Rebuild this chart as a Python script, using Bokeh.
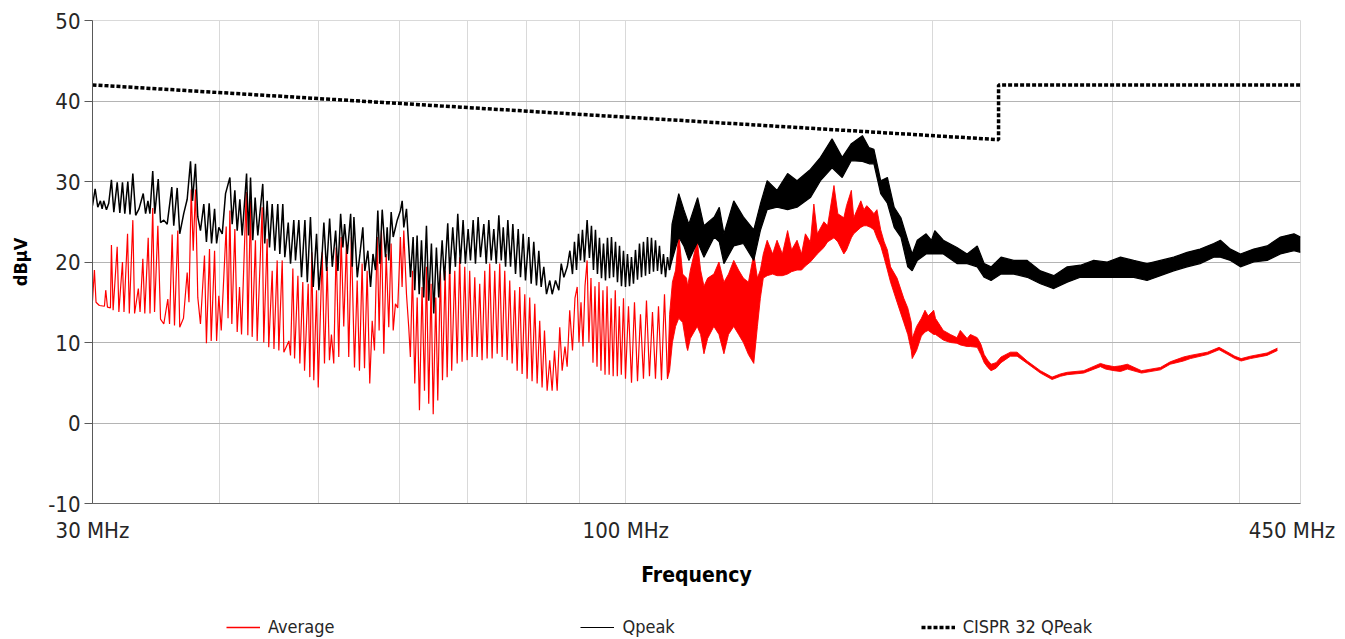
from bokeh.plotting import figure
from bokeh.layouts import column
from bokeh.models import FixedTicker, Legend, LegendItem, Range1d
from bokeh.embed import file_html
from bokeh.resources import INLINE

FONT = "'DejaVu Sans Condensed', 'Roboto Condensed', 'Liberation Sans Narrow', Roboto"

# ---------------- axis / tick data ----------------
x_tick_values = [30, 100, 450]
x_tick_labels = ["30 MHz", "100 MHz", "450 MHz"]
x_grid_values = [40, 50, 60, 70, 80, 90, 100, 200, 300, 400]
y_tick_values = [-10, 0, 10, 20, 30, 40, 50]
y_tick_labels = ["-10", "0", "10", "20", "30", "40", "50"]
series_names = ["Average", "Qpeak", "CISPR 32 QPeak"]

# ---------------- CISPR 32 QPeak limit ----------------
limit_freq = [30.0, 232.0, 232.0, 460.0]
limit_dbuv = [42.0, 35.2, 42.0, 42.0]

# ---------------- Qpeak trace, 30-110 MHz (freq MHz, dBuV) ----------------
qpeak_points = [
    (30.0, 27.0), (30.18, 29.1), (30.36, 26.8), (30.54, 27.6), (30.66, 26.6), (30.77, 27.6),
    (30.96, 26.5), (31.12, 27.3), (31.31, 30.2), (31.48, 26.2), (31.72, 29.9), (31.91, 26.1),
    (32.10, 29.9), (32.27, 26.0), (32.49, 30.0), (32.65, 25.9), (32.86, 31.0), (33.07, 25.8),
    (33.32, 26.6), (33.64, 28.5), (33.82, 26.0), (34.00, 27.6), (34.15, 26.0), (34.37, 31.3),
    (34.53, 26.0), (34.80, 30.3), (34.98, 24.9), (35.24, 25.2), (35.51, 24.7), (35.88, 29.3),
    (36.04, 24.5), (36.32, 29.2), (36.53, 23.5), (36.86, 26.0), (37.15, 27.8), (37.43, 32.5),
    (37.60, 27.6), (37.85, 32.2), (38.05, 25.6), (38.28, 23.9), (38.57, 27.2), (38.80, 22.5),
    (39.04, 27.3), (39.25, 22.3), (39.52, 26.6), (39.70, 22.3), (39.90, 24.3), (40.21, 23.5),
    (40.51, 28.5), (40.91, 30.5), (41.12, 24.7), (41.37, 28.9), (41.59, 23.9), (41.84, 27.8),
    (42.06, 23.3), (42.48, 31.0), (42.67, 23.3), (42.86, 30.5), (43.08, 22.7), (43.31, 28.0),
    (43.57, 23.3), (44.06, 29.7), (44.26, 22.3), (44.50, 27.6), (44.74, 21.8), (45.01, 27.2),
    (45.28, 21.4), (45.58, 27.2), (45.79, 21.0), (46.10, 27.2), (46.31, 20.6), (46.67, 24.9),
    (46.91, 19.8), (47.26, 25.2), (47.44, 20.2), (47.80, 25.2), (48.09, 18.1), (48.46, 25.2),
    (48.72, 17.5), (49.07, 25.6), (49.38, 16.9), (49.75, 23.5), (50.01, 16.5), (50.40, 21.4),
    (50.58, 24.9), (50.89, 18.9), (51.24, 25.4), (51.55, 19.4), (51.94, 23.9), (52.21, 18.9),
    (52.53, 26.0), (52.80, 21.8), (53.00, 24.7), (53.33, 21.0), (53.73, 26.0), (53.93, 19.4),
    (54.13, 25.6), (54.54, 18.1), (54.87, 21.0), (55.23, 24.3), (55.48, 18.9), (55.86, 21.4),
    (56.20, 16.9), (56.51, 21.0), (56.83, 19.0), (57.13, 26.4), (57.39, 19.8), (57.70, 26.5),
    (58.13, 20.6), (58.35, 24.3), (58.56, 20.2), (58.88, 26.2), (59.15, 23.1), (59.69, 25.2),
    (60.13, 26.4), (60.36, 27.6), (60.58, 24.3), (60.95, 26.6), (61.27, 21.8), (61.50, 18.1),
    (61.87, 23.1), (62.10, 16.5), (62.43, 23.3), (62.72, 16.0), (63.05, 22.7), (63.37, 15.6),
    (63.76, 24.5), (64.09, 15.2), (64.48, 22.3), (64.82, 13.6), (65.21, 21.8), (65.55, 15.6),
    (66.06, 22.7), (66.40, 17.7), (66.90, 24.8), (67.21, 18.5), (67.66, 24.3), (68.07, 19.4),
    (68.43, 26.0), (68.84, 19.8), (69.26, 25.2), (69.62, 19.8), (70.05, 24.1), (70.42, 20.2),
    (70.85, 25.2), (71.22, 19.8), (71.65, 25.6), (72.03, 20.6), (72.58, 24.7), (72.97, 19.8),
    (73.40, 25.2), (73.80, 20.2), (74.23, 24.1), (74.64, 19.8), (75.08, 25.8), (75.49, 20.2),
    (75.83, 24.3), (76.23, 19.4), (76.62, 25.2), (77.09, 19.4), (77.49, 24.7), (77.96, 18.5),
    (78.44, 24.1), (78.84, 18.1), (79.32, 23.5), (79.73, 17.7), (80.33, 23.1), (80.77, 17.3),
    (81.24, 22.5), (81.74, 17.1), (82.17, 21.4), (82.61, 16.9), (83.10, 19.4), (83.61, 16.0),
    (84.23, 17.7), (84.69, 16.0), (85.33, 17.7), (85.97, 16.5), (86.44, 19.8), (86.95, 18.1),
    (87.62, 19.4), (88.14, 21.4), (88.66, 18.5), (89.06, 22.5), (89.47, 19.0), (89.87, 23.5),
    (90.28, 20.2), (90.68, 24.0), (91.09, 20.0), (91.64, 25.2), (92.12, 20.5), (92.54, 24.5),
    (92.96, 19.0), (93.38, 24.0), (93.80, 18.5), (94.23, 23.0), (94.66, 18.0), (95.09, 22.3),
    (95.52, 17.7), (95.95, 23.0), (96.39, 18.0), (96.82, 23.1), (97.26, 18.1), (97.70, 22.5),
    (98.14, 17.5), (98.59, 22.0), (99.03, 17.0), (99.48, 21.4), (99.93, 16.9), (100.38, 21.0),
    (100.84, 17.0), (101.29, 20.6), (101.75, 17.3), (102.21, 21.5), (102.68, 17.8), (103.14, 22.3),
    (103.61, 18.1), (104.07, 22.5), (104.55, 18.3), (105.02, 23.1), (105.49, 18.5), (105.97, 23.0),
    (106.45, 18.8), (106.93, 22.7), (107.42, 18.9), (107.90, 22.0), (108.39, 18.5), (108.88, 21.0),
    (109.38, 18.1), (109.87, 20.6), (110.37, 19.0),
]

# ---------------- Qpeak, 110-459 MHz: dense trace, low / high envelope ----------------
qpeak_band_freq = [110.37, 111.0, 112.7, 114.0, 115.3, 117.6, 119.3, 122.1, 123.5, 124.8, 127.6,
                   130.4, 133.5, 135.5, 137.6, 140.7, 144.1, 147.2, 151.7, 155.2, 159.3, 163.0,
                   166.4, 170.6, 173.2, 175.1, 177.8, 180.5, 183.3, 186.1, 189.0, 190.9, 193.1,
                   197.0, 199.4, 200.9, 204.8, 211.2, 216.1, 221.1, 224.6, 228.1, 233.3, 240.1,
                   247.5, 255.0, 262.8, 270.9, 279.1, 287.6, 296.5, 305.5, 314.8, 324.4, 334.3,
                   344.5, 355.1, 365.7, 377.1, 382.8, 391.6, 400.5, 412.7, 425.4, 438.4, 452.0,
                   458.7]
qpeak_band_low = [19.0, 20.2, 23.1, 22.0, 20.2, 22.5, 20.6, 23.1, 22.5, 19.8, 22.0,
                  22.3, 20.2, 23.9, 26.5, 26.8, 26.5, 26.8, 28.0, 30.1, 31.7, 30.5,
                  32.6, 32.5, 32.2, 32.2, 28.5, 27.3, 24.3, 23.1, 19.4, 18.9, 20.2,
                  21.0, 21.0, 21.0, 21.0, 19.8, 19.8, 19.4, 18.1, 17.7, 18.5, 18.5,
                  18.1, 17.3, 16.7, 17.5, 18.1, 18.1, 18.1, 18.1, 18.1, 17.7, 18.3,
                  18.9, 19.4, 19.8, 20.6, 20.6, 20.2, 19.4, 20.0, 20.2, 21.0, 21.4,
                  21.2]
qpeak_band_high = [19.0, 24.7, 28.5, 26.5, 24.7, 28.0, 24.5, 25.6, 26.8, 23.5, 27.6,
                   25.6, 24.0, 27.2, 30.1, 28.9, 31.0, 30.1, 31.5, 33.0, 35.3, 33.0,
                   34.7, 35.7, 34.2, 34.0, 30.1, 30.5, 26.8, 25.5, 22.7, 21.0, 22.7,
                   23.5, 22.7, 23.9, 22.7, 21.8, 21.0, 22.0, 19.8, 19.4, 20.6, 20.2,
                   20.2, 18.9, 18.3, 19.4, 19.6, 20.2, 20.0, 20.6, 20.2, 19.8, 20.2,
                   20.6, 21.2, 21.6, 22.3, 22.7, 21.6, 21.0, 21.6, 22.0, 23.1, 23.5,
                   23.1]

# ---------------- Average trace, 30-110 MHz (freq MHz, dBuV) ----------------
average_points = [
    (30.0, 15.2), (30.13, 19.0), (30.24, 15.0), (30.47, 14.6), (30.82, 14.5), (30.91, 16.5),
    (31.03, 14.4), (31.24, 14.3), (31.31, 22.1), (31.43, 14.0), (31.72, 21.9), (31.84, 13.8),
    (32.10, 20.0), (32.21, 13.8), (32.47, 23.5), (32.60, 13.6), (32.86, 25.2), (32.99, 13.6),
    (33.27, 16.7), (33.40, 13.8), (33.61, 20.4), (33.76, 13.6), (34.02, 23.0), (34.16, 13.6),
    (34.37, 26.7), (34.51, 13.8), (34.77, 24.5), (34.98, 12.9), (35.24, 12.3), (35.56, 15.4),
    (35.70, 12.3), (35.91, 23.4), (36.10, 12.1), (36.37, 23.9), (36.53, 11.9), (36.84, 13.0),
    (37.15, 18.7), (37.30, 15.0), (37.49, 29.0), (37.66, 21.4), (37.85, 29.0), (38.05, 15.6),
    (38.28, 12.3), (38.63, 20.8), (38.80, 9.9), (39.07, 21.6), (39.22, 10.2), (39.52, 21.4),
    (39.70, 10.2), (39.90, 15.8), (40.12, 11.5), (40.57, 24.4), (40.74, 13.0), (40.91, 26.4),
    (41.09, 12.3), (41.37, 24.1), (41.59, 11.3), (41.81, 16.9), (42.00, 11.0), (42.45, 28.7),
    (42.60, 10.9), (42.86, 27.6), (43.02, 10.7), (43.34, 22.7), (43.51, 10.2), (44.00, 26.8),
    (44.16, 10.0), (44.50, 22.9), (44.66, 9.4), (45.01, 18.9), (45.19, 9.2), (45.52, 20.2),
    (45.69, 9.0), (46.04, 20.2), (46.21, 8.8), (46.74, 10.2), (46.91, 8.4), (47.16, 19.2),
    (47.34, 8.0), (47.70, 18.3), (47.91, 7.4), (48.23, 17.5), (48.42, 6.5), (48.82, 17.3),
    (49.00, 5.7), (49.22, 21.2), (49.44, 5.3), (49.75, 16.5), (49.94, 4.4), (50.39, 21.2),
    (50.65, 7.4), (50.96, 19.4), (51.22, 7.8), (51.45, 11.0), (51.72, 7.4), (52.00, 21.8),
    (52.31, 8.2), (52.59, 23.1), (52.90, 12.0), (53.23, 22.5), (53.50, 8.2), (53.82, 23.1),
    (54.20, 6.9), (54.53, 17.7), (54.81, 6.5), (55.14, 19.8), (55.44, 6.8), (55.77, 18.9),
    (56.10, 4.9), (56.41, 12.7), (56.70, 9.0), (57.05, 23.1), (57.30, 11.5), (57.60, 23.9),
    (57.91, 8.6), (58.22, 21.0), (58.56, 11.9), (58.87, 22.3), (59.15, 11.5), (59.45, 14.8),
    (59.76, 14.3), (60.12, 23.1), (60.35, 16.9), (60.58, 23.9), (60.95, 16.0), (61.26, 11.9),
    (61.49, 8.2), (61.78, 18.9), (62.10, 4.9), (62.44, 15.6), (62.76, 1.6), (63.13, 16.9),
    (63.48, 4.0), (63.76, 19.4), (64.09, 2.4), (64.43, 17.3), (64.74, 1.1), (65.12, 15.6),
    (65.41, 2.8), (65.80, 18.9), (66.11, 5.3), (66.51, 18.9), (66.81, 5.7), (67.20, 20.6),
    (67.50, 6.5), (67.97, 18.9), (68.34, 7.4), (68.73, 20.6), (69.10, 7.6), (69.52, 19.4),
    (69.90, 7.8), (70.30, 18.9), (70.68, 8.2), (71.11, 18.1), (71.49, 8.2), (71.91, 17.3),
    (72.29, 7.8), (72.73, 18.9), (73.12, 8.0), (73.55, 19.8), (73.95, 8.0), (74.39, 18.9),
    (74.80, 8.6), (75.23, 19.8), (75.64, 8.2), (76.09, 18.9), (76.50, 7.8), (76.95, 17.7),
    (77.37, 7.4), (77.83, 16.5), (78.25, 6.5), (78.70, 16.9), (79.13, 6.1), (79.61, 16.0),
    (80.03, 5.5), (80.50, 15.6), (80.93, 5.2), (81.43, 14.8), (81.86, 4.9), (82.34, 12.7),
    (82.78, 4.4), (83.23, 11.5), (83.73, 4.0), (84.22, 7.8), (84.68, 4.0), (85.13, 9.0),
    (85.65, 4.0), (86.15, 11.9), (86.62, 6.5), (87.17, 9.5), (87.60, 7.0), (88.11, 14.0),
    (88.66, 9.0), (89.16, 15.5), (89.61, 16.9), (89.97, 10.0), (90.38, 15.0), (90.79, 9.5),
    (91.20, 17.0), (91.64, 20.2), (92.01, 10.0), (92.44, 18.0), (92.86, 7.5), (93.28, 17.0),
    (93.71, 7.0), (94.13, 17.5), (94.55, 6.5), (94.97, 16.5), (95.42, 6.0), (95.86, 17.0),
    (96.31, 6.0), (96.75, 15.5), (97.19, 5.8), (97.65, 16.5), (98.10, 5.8), (98.54, 14.5),
    (98.99, 6.0), (99.48, 15.5), (99.93, 5.5), (100.61, 14.5), (101.30, 5.0), (101.98, 15.0),
    (102.68, 5.2), (103.37, 13.5), (104.07, 5.5), (104.78, 15.2), (105.49, 5.8), (106.21, 13.8),
    (106.93, 5.5), (107.66, 14.5), (108.39, 5.3), (109.13, 16.0), (109.87, 5.5),
]

# ---------------- Average, 110-435 MHz: dense trace, low / high envelope ----------------
average_band_freq = [109.87, 110.4, 111.1, 111.9,
                     112.7, 113.7, 114.7, 115.0, 115.7, 117.5, 118.4, 119.3, 120.3, 122.0, 123.4,
                     124.8, 126.1, 127.6, 129.0, 130.4, 131.9, 133.5, 134.6, 135.5, 136.4, 137.6,
                     139.3, 140.7, 142.4, 144.1, 145.4, 147.2, 148.7, 150.0, 151.7, 152.9, 154.1,
                     156.4, 157.7, 160.0, 161.4, 163.6, 164.6, 166.4, 167.3, 170.0, 171.2, 172.3,
                     173.8, 175.1, 176.3, 177.8, 179.2, 180.5, 181.8, 184.5, 187.3, 189.0, 190.5,
                     190.9, 192.8, 194.9, 196.5, 197.9, 200.4, 201.2, 204.8, 208.1, 211.2, 212.8,
                     216.1, 217.7, 221.1, 222.9, 224.6, 226.4, 228.1, 230.7, 233.3, 238.3, 241.9,
                     247.5, 255.0, 261.8, 266.8, 270.9, 281.2, 292.0, 295.4, 301.1, 305.5, 310.3,
                     320.4, 334.3, 341.8, 352.2, 357.7, 371.8, 381.7, 389.3, 395.5, 401.2, 409.6,
                     425.4, 435.4]
average_band_low = [5.5, 6.5, 10.0, 12.0,
                    13.0, 12.5, 9.5, 9.0, 10.5, 12.0, 11.0, 8.6, 10.5, 12.0, 11.0,
                    8.6, 11.0, 12.0, 11.0, 10.0, 8.5, 7.4, 12.0, 15.5, 18.0, 18.3,
                    18.5, 18.3, 18.3, 18.5, 18.8, 19.0, 19.0, 19.5, 20.0, 20.5, 21.0,
                    21.8, 22.5, 23.0, 22.5, 21.0, 21.5, 23.0, 23.5, 24.3, 24.5, 24.5,
                    24.3, 24.0, 23.0, 22.0, 20.5, 19.0, 17.5, 15.0, 12.5, 11.0, 9.0,
                    8.0, 9.0, 10.8, 11.3, 11.5, 11.0, 11.0, 10.3, 10.0, 9.9, 9.7,
                    9.5, 9.5, 9.4, 8.5, 7.5, 6.9, 6.5, 6.8, 7.5, 8.3, 8.3,
                    7.4, 6.2, 5.4, 5.8, 6.0, 6.2, 7.0, 6.7, 6.5, 6.4, 6.7,
                    6.2, 6.6, 7.3, 7.7, 8.0, 8.5, 9.1, 8.5, 8.0, 7.7, 8.0,
                    8.4, 9.0]
average_band_high = [5.5, 13.5, 17.5, 19.0,
                     23.5, 18.5, 18.0, 17.0, 19.0, 22.7, 19.0, 17.0, 18.0, 18.5, 20.0,
                     17.5, 18.5, 20.2, 19.0, 18.0, 17.5, 21.0, 18.0, 19.0, 21.0, 22.7,
                     21.0, 22.7, 21.0, 23.9, 21.5, 22.7, 21.0, 23.5, 22.5, 27.2, 23.5,
                     25.0, 24.5, 29.5, 26.0, 25.5, 27.0, 28.9, 25.5, 27.6, 26.5, 27.0,
                     26.5, 26.0, 26.5, 24.0, 22.5, 21.5, 19.4, 18.0, 15.5, 14.3, 12.5,
                     10.5, 12.0, 13.0, 14.0, 13.3, 14.0, 13.0, 11.5, 11.0, 10.6, 11.5,
                     10.5, 11.0, 10.6, 9.8, 8.5, 7.8, 7.3, 7.5, 8.2, 8.8, 8.8,
                     7.7, 6.5, 5.7, 6.1, 6.3, 6.5, 7.4, 7.2, 7.0, 7.1, 7.3,
                     6.5, 6.9, 7.6, 8.2, 8.4, 8.8, 9.4, 8.8, 8.3, 8.0, 8.3,
                     8.7, 9.3]

RED = "#ff0000"
BLACK = "#000000"
TXT = "#262626"

p = figure(frame_width=1208, frame_height=483, x_axis_type="log",
           x_range=(30, 458.7), y_range=(-10, 50),
           output_backend="svg", toolbar_location=None,
           min_border_left=92, min_border_right=45, min_border_top=20, min_border_bottom=97,
           background_fill_color="white", border_fill_color="white",
           outline_line_color="#d9d9d9")

# grids
p.xgrid.ticker = FixedTicker(ticks=x_grid_values)
p.xgrid.grid_line_color = "#d9d9d9"
p.ygrid.ticker = FixedTicker(ticks=y_tick_values)
p.ygrid.grid_line_color = "#b4b4b4"

# axes
p.xaxis.ticker = FixedTicker(ticks=x_tick_values)
p.xaxis.major_label_overrides = dict(zip(x_tick_values, x_tick_labels))
p.xaxis.major_tick_line_color = None
p.xaxis.major_tick_out = 0
p.xaxis.major_tick_in = 0
p.xaxis.minor_tick_line_color = None
p.xaxis.axis_line_color = "#666666"
p.xaxis.major_label_text_font = FONT
p.xaxis.major_label_text_font_size = "22px"
p.xaxis.major_label_text_color = TXT
p.xaxis.major_label_standoff = 14
p.xaxis.axis_label = "Frequency"
p.xaxis.axis_label_text_font = FONT
p.xaxis.axis_label_text_font_style = "bold"
p.xaxis.axis_label_text_font_size = "21px"
p.xaxis.axis_label_text_color = "#000000"
p.xaxis.axis_label_standoff = 17

p.yaxis.ticker = FixedTicker(ticks=y_tick_values)
p.yaxis.major_label_overrides = dict(zip(y_tick_values, y_tick_labels))
p.yaxis.major_tick_out = 8
p.yaxis.major_tick_in = 0
p.yaxis.minor_tick_line_color = None
p.yaxis.axis_line_color = "#595959"
p.yaxis.major_tick_line_color = "#595959"
p.yaxis.major_label_text_font = FONT
p.yaxis.major_label_text_font_size = "22px"
p.yaxis.major_label_text_color = TXT
p.yaxis.major_label_standoff = 4
p.yaxis.axis_label = "dBµV"
p.yaxis.axis_label_text_font = FONT
p.yaxis.axis_label_text_font_style = "bold"
p.yaxis.axis_label_text_font_size = "18px"
p.yaxis.axis_label_text_color = "#000000"
p.yaxis.axis_label_standoff = 14

# Average
avg_f = [a for a, b in average_points]
avg_v = [b for a, b in average_points]
p.line(avg_f, avg_v, line_color=RED, line_width=1.2)
p.varea(x=average_band_freq, y1=average_band_low, y2=average_band_high, fill_color=RED)
p.line(average_band_freq, average_band_high, line_color=RED, line_width=0.9)
p.line(average_band_freq, average_band_low, line_color=RED, line_width=0.9)

# Qpeak
qp_f = [a for a, b in qpeak_points]
qp_v = [b for a, b in qpeak_points]
p.line(qp_f, qp_v, line_color=BLACK, line_width=1.5)
p.varea(x=qpeak_band_freq, y1=qpeak_band_low, y2=qpeak_band_high, fill_color=BLACK)
p.line(qpeak_band_freq, qpeak_band_high, line_color=BLACK, line_width=1.2)
p.line(qpeak_band_freq, qpeak_band_low, line_color=BLACK, line_width=1.2)

# Limit
p.line(limit_freq, limit_dbuv, line_color=BLACK, line_width=3.5, line_dash="4 2")

# ---------------- legend strip below the chart ----------------
leg = figure(width=1345, height=39, output_backend="svg", toolbar_location=None,
             x_range=Range1d(0, 1), y_range=Range1d(0, 1),
             min_border=0, outline_line_color=None,
             background_fill_color="white", border_fill_color="white")
leg.axis.visible = False
leg.grid.visible = False
# sample renderers for the legend keys (their points lie outside the strip's ranges)
la = leg.line([5, 6], [5, 6], line_color=RED, line_width=1.6)
lq = leg.line([5, 6], [5, 6], line_color=BLACK, line_width=1.2)
ll = leg.line([5, 6], [5, 6], line_color=BLACK, line_width=3.5, line_dash="4 2")
legend = Legend(items=[LegendItem(label=series_names[0], renderers=[la]),
                       LegendItem(label=series_names[1], renderers=[lq]),
                       LegendItem(label=series_names[2], renderers=[ll])],
                orientation="horizontal", location=(134, 2),
                spacing=246, glyph_width=34, label_standoff=8,
                label_text_font=FONT, label_text_font_size="18px",
                label_text_color=TXT,
                border_line_color=None, background_fill_alpha=0,
                margin=0, padding=0)
leg.add_layout(legend, "center")

layout = column(p, leg, spacing=0)
open("out.html", "w").write(file_html(layout, INLINE))
